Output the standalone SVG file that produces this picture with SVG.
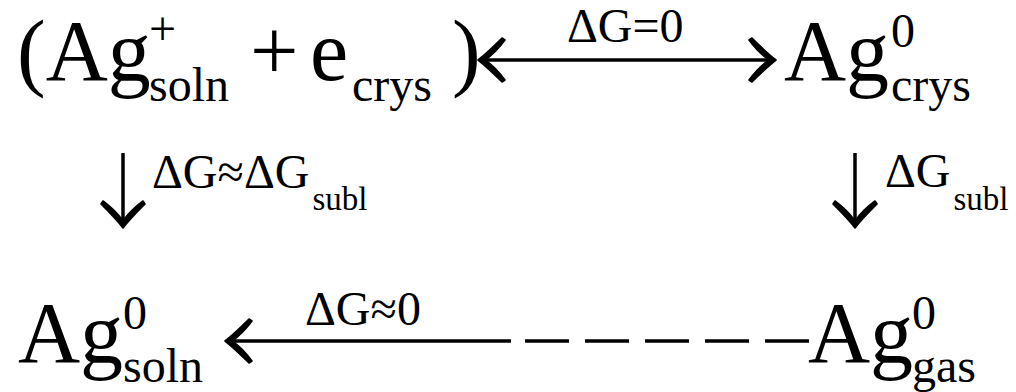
<svg xmlns="http://www.w3.org/2000/svg" width="1016" height="392" viewBox="0 0 1016 392">
  <style>
    .t { font-family: "Liberation Serif", "Times New Roman", Times, serif; fill: #000; }
    .big { font-size: 86px; }
    .sup { font-size: 48px; }
    .sub { font-size: 48px; }
    .lbl { font-size: 48px; }
    .lsub { font-size: 33px; }
    .conn { stroke: #000; stroke-width: 3.5; fill: none; }
  </style>
  <defs>
    <marker id="head" viewBox="-32 -26 36 52" refX="-5" refY="0" markerWidth="36" markerHeight="52" markerUnits="userSpaceOnUse" orient="auto-start-reverse">
      <path d="M0,0 C-9,-7 -17,-15 -24,-22 L-27,-20 C-21,-12 -13,-4 -7,0 C-13,4 -21,12 -27,20 L-24,22 C-17,15 -9,7 0,0 Z" fill="#000" stroke="#000" stroke-width="1.6" stroke-linejoin="round"/>
    </marker>
  </defs>

  <g id="node-reactants" class="t">
    <text x="17" y="80" class="big">(Ag</text>
    <text x="149" y="45" class="sup">+</text>
    <text x="149" y="101" class="sub">soln</text>
    <text x="250" y="80" class="big">+</text>
    <text x="310" y="80" class="big">e</text>
    <text x="352" y="101" class="sub">crys</text>
    <text x="452" y="80" class="big">)</text>
  </g>

  <g id="node-ag-crys" class="t">
    <text x="784" y="80" class="big">Ag</text>
    <text x="891" y="47" class="sup">0</text>
    <text x="891" y="101" class="sub">crys</text>
  </g>

  <g id="node-ag-soln" class="t">
    <text x="18" y="362" class="big">Ag</text>
    <text x="123" y="329" class="sup">0</text>
    <text x="123" y="382" class="sub">soln</text>
  </g>

  <g id="node-ag-gas" class="t">
    <text x="808" y="362" class="big">Ag</text>
    <text x="912" y="329" class="sup">0</text>
    <text x="912" y="382" class="sub">gas</text>
  </g>

  <g id="connectors">
    <line class="conn" x1="483" y1="60" x2="771" y2="60" marker-start="url(#head)" marker-end="url(#head)"/>
    <line class="conn" x1="123" y1="153" x2="123" y2="223" stroke-width="3" marker-end="url(#head)"/>
    <line class="conn" x1="855" y1="153" x2="855" y2="223" stroke-width="3" marker-end="url(#head)"/>
    <line class="conn" x1="511" y1="341" x2="230" y2="341" marker-end="url(#head)"/>
    <line class="conn" x1="525" y1="341" x2="809" y2="341" stroke-dasharray="44 16"/>
  </g>

  <g id="labels" class="t">
    <text x="567" y="42" class="lbl">ΔG=0</text>
    <text x="152" y="188" class="lbl">ΔG≈ΔG<tspan class="lsub" dx="3" dy="22">subl</tspan></text>
    <text x="885" y="187" class="lbl">ΔG<tspan class="lsub" dx="3" dy="23">subl</tspan></text>
    <text x="305" y="325" class="lbl">ΔG≈0</text>
  </g>
</svg>
